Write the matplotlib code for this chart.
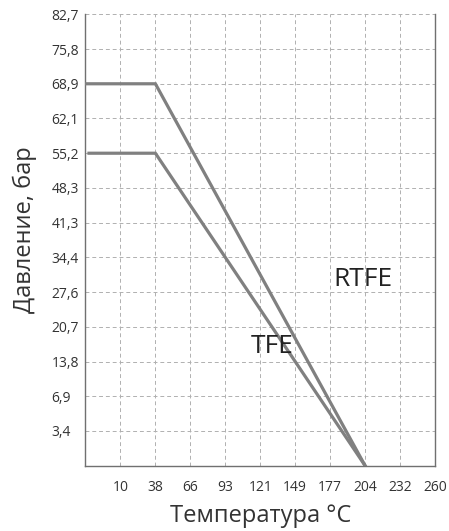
import numpy as np
import matplotlib
matplotlib.use('Agg')
import matplotlib.pyplot as plt

plt.rcParams['font.family'] = ['Open Sans', 'DejaVu Sans']

# подписи осей (шкала неравномерная, метки стоят через равные промежутки)
temps = [10, 38, 66, 93, 121, 149, 177, 204, 232, 260]
temp_labels = ['10', '38', '66', '93', '121', '149', '177', '204', '232', '260']
pressures = [3.4, 6.9, 13.8, 20.7, 27.6, 34.4, 41.3, 48.3, 55.2, 62.1, 68.9, 75.8, 82.7]
pressure_labels = ['3,4', '6,9', '13,8', '20,7', '27,6', '34,4', '41,3',
                   '48,3', '55,2', '62,1', '68,9', '75,8', '82,7']

# кривые: температура °C, давление бар
rtfe_t = [0, 38, 204]
rtfe_p = [68.9, 68.9, 0]
tfe_t = [1, 38, 204]
tfe_p = [55.2, 55.2, 0]


def tx(t):
    return np.interp(t, [0] + temps, np.arange(len(temps) + 1))


def py(p):
    return np.interp(p, [0] + pressures, np.arange(len(pressures) + 1))


fig = plt.figure(figsize=(4.49, 5.31), dpi=100)
ax = fig.add_axes([0.1904, 0.123, 0.7784, 0.850])

ax.plot(tx(rtfe_t), py(rtfe_p), color='#808080', lw=2.3, solid_joinstyle='miter', zorder=3)
ax.plot(tx(tfe_t), py(tfe_p), color='#808080', lw=2.3, solid_joinstyle='miter', zorder=3)

ax.text(7.1, 5.35, 'RTFE', fontsize=19, color='#222222', va='center', ha='left')
ax.text(4.72, 3.43, 'TFE', fontsize=19, color='#222222', va='center', ha='left')

ax.set_xlim(0, len(temps))
ax.set_ylim(0, len(pressures))
ax.set_xticks(np.arange(1, len(temps) + 1))
ax.set_xticklabels(temp_labels)
ax.set_yticks(np.arange(1, len(pressures) + 1))
ax.set_yticklabels(pressure_labels, ha='left')

ax.tick_params(axis='x', length=0, pad=10, labelsize=10, labelcolor='#333333')
ax.tick_params(axis='y', length=0, pad=24.5, labelsize=10, labelcolor='#333333')

ax.grid(True, color='#b0b0b0', linestyle=(0, (4, 3)), linewidth=0.7)
ax.set_axisbelow(True)

ax.spines['top'].set_visible(False)
for s in ['left', 'right', 'bottom']:
    ax.spines[s].set_color('#707070')
    ax.spines[s].set_linewidth(1.0)

ax.set_xlabel('Температура °C', fontsize=17, color='#333333')
ax.xaxis.set_label_coords(0.5, -0.085)
ax.set_ylabel('Давление, бар', fontsize=17, color='#333333')
ax.yaxis.set_label_coords(-0.14, 0.524)

fig.savefig('out.png', dpi=100)
